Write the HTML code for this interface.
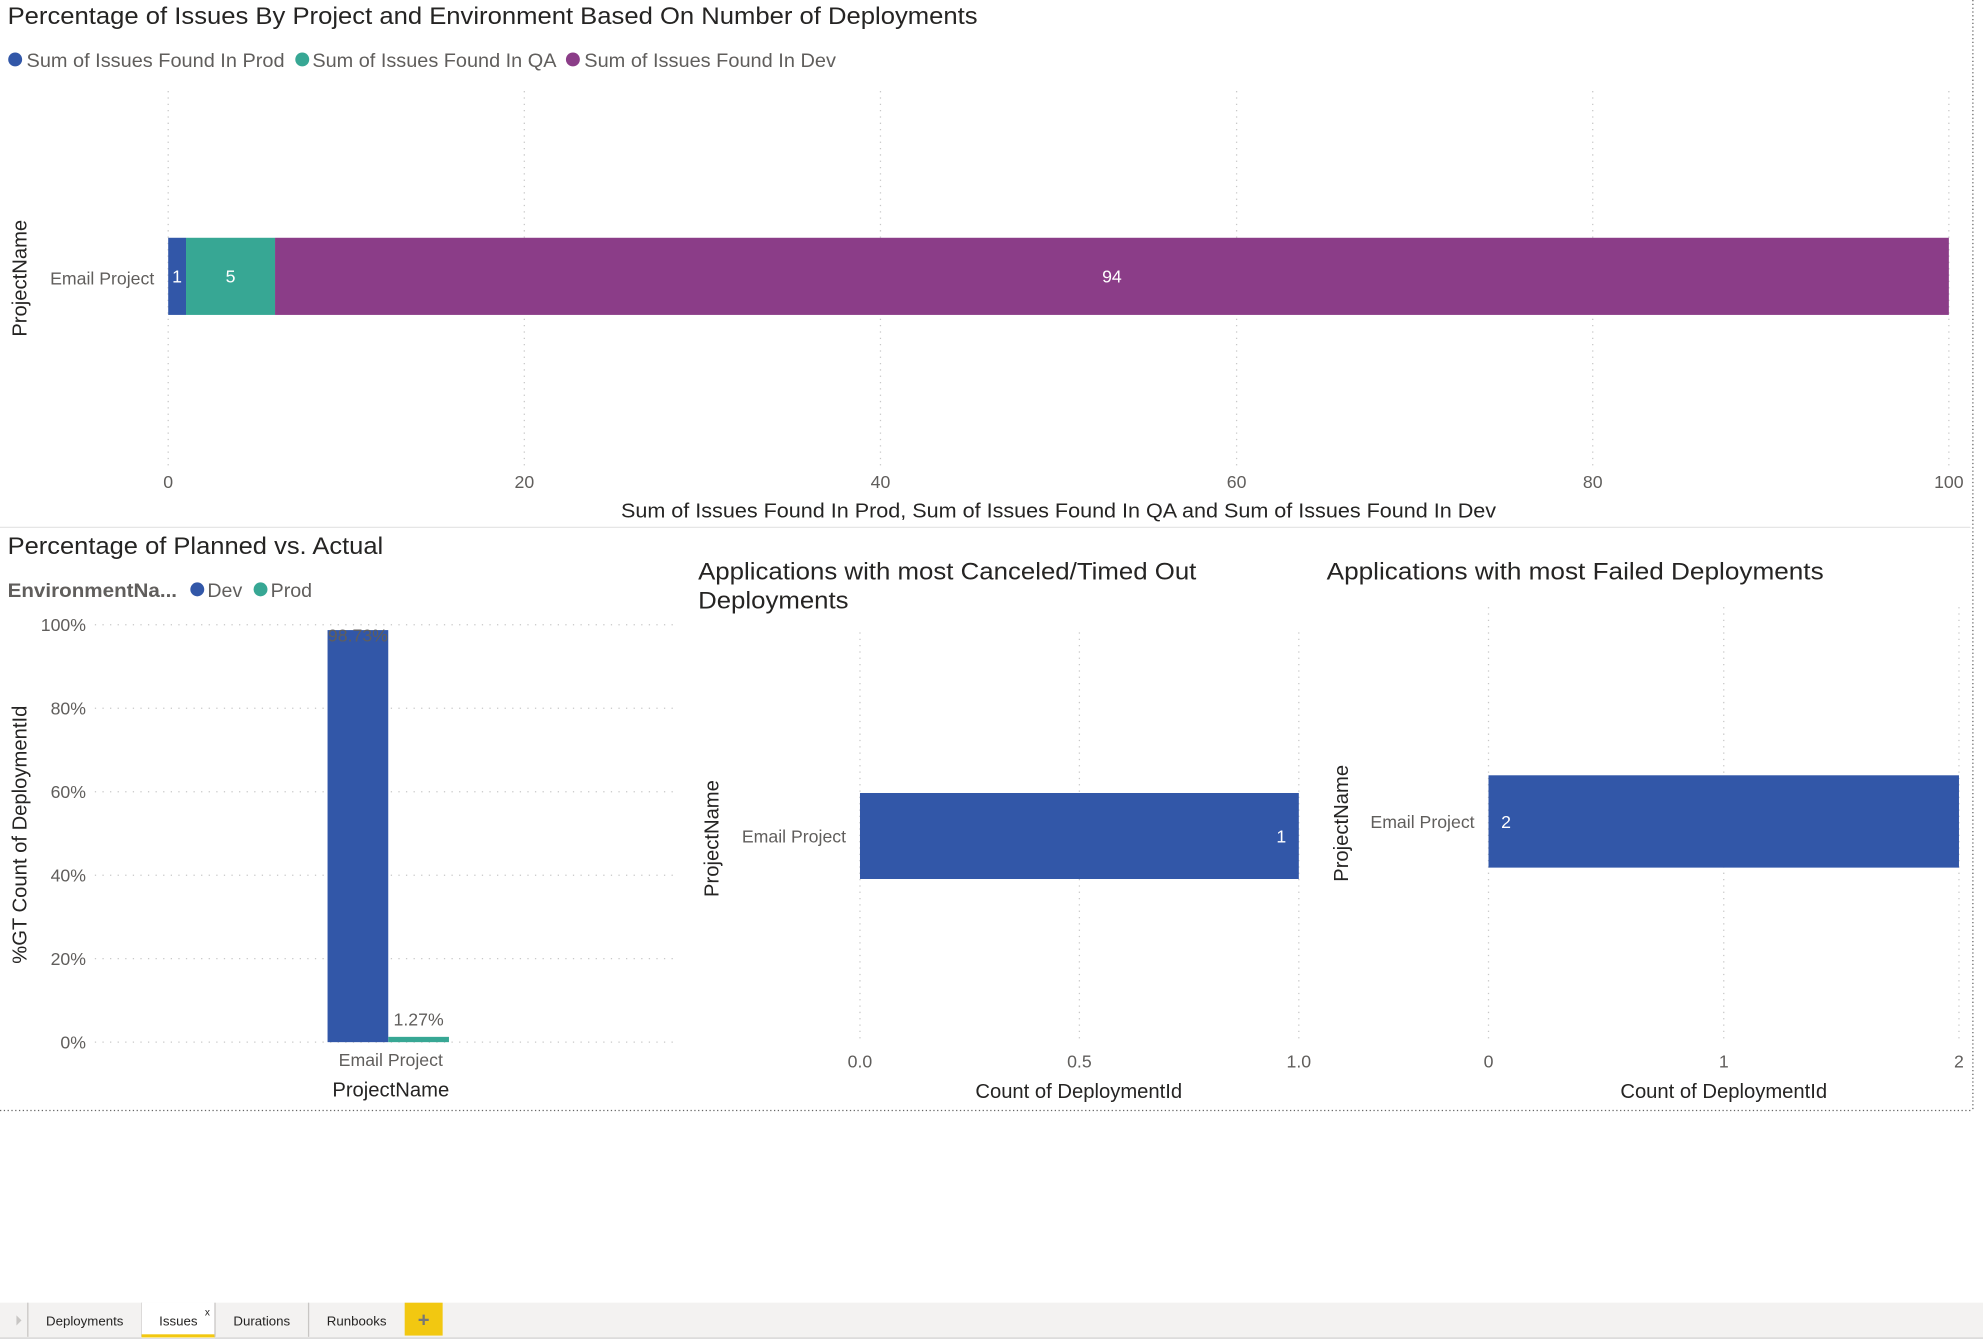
<!DOCTYPE html>
<html><head><meta charset="utf-8">
<style>
html,body{margin:0;padding:0;background:#fff;overflow:hidden}
svg{display:block}
text{font-family:"Liberation Sans Narrow","Liberation Sans",sans-serif}
</style></head>
<body>
<svg id="root" width="1983" height="1340" viewBox="0 0 1568 1059.5" preserveAspectRatio="none">
<g id="static">
  <line x1="1560" y1="0" x2="1560" y2="878" stroke="#666" stroke-dasharray="1,2"/>
  <line x1="0" y1="878" x2="1560" y2="878" stroke="#666" stroke-dasharray="1,2"/>
  <line x1="0" y1="417" x2="1558" y2="417" stroke="#e6e6e6"/>

  <text x="6" y="19" font-size="19" fill="#252423" textLength="767" lengthAdjust="spacingAndGlyphs">Percentage of Issues By Project and Environment Based On Number of Deployments</text>
  <g>
    <circle cx="12" cy="47" r="5.5" fill="#3257a8"/>
    <text x="21" y="53" font-size="15.5" fill="#605e5c" textLength="204" lengthAdjust="spacingAndGlyphs">Sum of Issues Found In Prod</text>
    <circle cx="239" cy="47" r="5.5" fill="#37a794"/>
    <text x="247" y="53" font-size="15.5" fill="#605e5c" textLength="193" lengthAdjust="spacingAndGlyphs">Sum of Issues Found In QA</text>
    <circle cx="453" cy="47" r="5.5" fill="#8b3d88"/>
    <text x="462" y="53" font-size="15.5" fill="#605e5c" textLength="199" lengthAdjust="spacingAndGlyphs">Sum of Issues Found In Dev</text>
  </g>
  <text transform="translate(21,220) rotate(-90)" text-anchor="middle" font-size="16" fill="#252423" font-family="Liberation Sans">ProjectName</text>
  <text x="122" y="225" text-anchor="end" font-size="14" fill="#605e5c">Email Project</text>
  <text x="837" y="409" text-anchor="middle" font-size="16" fill="#252423" textLength="692" lengthAdjust="spacingAndGlyphs">Sum of Issues Found In Prod, Sum of Issues Found In QA and Sum of Issues Found In Dev</text>

  <text x="6" y="438" font-size="19" fill="#252423" textLength="297" lengthAdjust="spacingAndGlyphs">Percentage of Planned vs. Actual</text>
  <text x="6" y="472" font-size="15.5" font-weight="bold" fill="#605e5c" textLength="134" lengthAdjust="spacingAndGlyphs">EnvironmentNa...</text>
  <circle cx="156" cy="466" r="5.5" fill="#3257a8"/>
  <text x="164" y="472" font-size="15.5" fill="#605e5c">Dev</text>
  <circle cx="206" cy="466" r="5.5" fill="#37a794"/>
  <text x="214" y="472" font-size="15.5" fill="#605e5c">Prod</text>
  <text transform="translate(21,660) rotate(-90)" text-anchor="middle" font-size="16" fill="#252423" font-family="Liberation Sans">%GT Count of DeploymentId</text>
  <text x="309" y="867" text-anchor="middle" font-size="16" fill="#252423">ProjectName</text>

  <text x="552" y="458" font-size="19" fill="#252423" textLength="394" lengthAdjust="spacingAndGlyphs">Applications with most Canceled/Timed Out</text>
  <text x="552" y="481" font-size="19" fill="#252423" textLength="119" lengthAdjust="spacingAndGlyphs">Deployments</text>
  <text transform="translate(568,663) rotate(-90)" text-anchor="middle" font-size="16" fill="#252423" font-family="Liberation Sans">ProjectName</text>
  <text x="853" y="868" text-anchor="middle" font-size="16" fill="#252423">Count of DeploymentId</text>

  <text x="1049" y="458" font-size="19" fill="#252423" textLength="393" lengthAdjust="spacingAndGlyphs">Applications with most Failed Deployments</text>
  <text transform="translate(1066,651) rotate(-90)" text-anchor="middle" font-size="16" fill="#252423" font-family="Liberation Sans">ProjectName</text>
  <text x="1363" y="868" text-anchor="middle" font-size="16" fill="#252423">Count of DeploymentId</text>

  <g>
    <rect x="0" y="1030" width="1568" height="28" fill="#f3f2f1"/>
    <line x1="0" y1="1058" x2="1568" y2="1058" stroke="#d0d0d0"/>
    <polygon points="13,1040 17,1044 13,1048" fill="#c8c6c4"/>
    <line x1="22" y1="1030" x2="22" y2="1057" stroke="#c8c6c4"/>
    <text x="67" y="1048" text-anchor="middle" font-size="10.5" fill="#252423">Deployments</text>
    <line x1="112" y1="1030" x2="112" y2="1057" stroke="#c8c6c4"/>
    <rect x="112" y="1030" width="58" height="28" fill="#fff"/>
    <rect x="112" y="1055" width="58" height="2.5" fill="#f2c811"/>
    <text x="141" y="1048" text-anchor="middle" font-size="10.5" fill="#252423">Issues</text>
    <text x="164" y="1040" text-anchor="middle" font-size="8" fill="#252423">x</text>
    <line x1="170" y1="1030" x2="170" y2="1057" stroke="#c8c6c4"/>
    <text x="207" y="1048" text-anchor="middle" font-size="10.5" fill="#252423">Durations</text>
    <line x1="244" y1="1030" x2="244" y2="1057" stroke="#c8c6c4"/>
    <text x="282" y="1048" text-anchor="middle" font-size="10.5" fill="#252423">Runbooks</text>
    <rect x="320" y="1030" width="30" height="26" fill="#f2c811"/>
    <text x="335" y="1049" text-anchor="middle" font-size="16" font-weight="bold" fill="#777">+</text>
  </g>
</g>
<g id="charts"></g>
</svg>
<script>
// Top stacked bar data
const topCategories = ["Email Project"];
const topProd = [1];
const topQA = [5];
const topDev = [94];
const topTicks = [0, 20, 40, 60, 80, 100];
// Bottom-left clustered column
const blCategories = ["Email Project"];
const blDev = [98.73];
const blProd = [1.27];
const blTicks = [0, 20, 40, 60, 80, 100];
// Middle bar
const midCategories = ["Email Project"];
const midValues = [1];
const midTicks = [0.0, 0.5, 1.0];
// Right bar
const rightCategories = ["Email Project"];
const rightValues = [2];
const rightTicks = [0, 1, 2];

const NS = "http://www.w3.org/2000/svg";
const g = document.getElementById("charts");
function mk(tag, attrs, parent) {
  const e = document.createElementNS(NS, tag);
  for (const k in attrs) e.setAttribute(k, attrs[k]);
  (parent || g).appendChild(e);
  return e;
}
function txt(x, y, s, size, fill, anchor) {
  const t = mk("text", {x: x, y: y, "font-size": size, fill: fill, "text-anchor": anchor || "middle"});
  t.textContent = s;
  return t;
}

// ---- Top chart ----
const tx = v => 133 + (v / 100) * (1541 - 133);
topTicks.forEach(v => {
  const l = mk("line", {x1: tx(v), x2: tx(v), y1: 72, y2: 372, stroke: "#c8c8c8", "stroke-dasharray": "1,4"});
  
  
  const t = txt(tx(v), 386, String(v), 14, "#605e5c");
  
  
});
topCategories.forEach((c, i) => {
  const y0 = 188, h = 61;
  const segs = [[topProd[i], "#3257a8", "prod"], [topQA[i], "#37a794", "qa"], [topDev[i], "#8b3d88", "dev"]];
  let acc = 0;
  segs.forEach(s => {
    const r = mk("rect", {x: tx(acc), y: y0, width: tx(acc + s[0]) - tx(acc), height: h, fill: s[1]});
    
    
    const t = txt((tx(acc) + tx(acc + s[0])) / 2, y0 + h / 2 + 5, String(s[0]), 14, "#fff");
    
    
    acc += s[0];
  });
});

// ---- Bottom-left chart ----
const by = v => 824 - (v / 100) * (824 - 494);
blTicks.forEach(v => {
  const l = mk("line", {x1: 75, x2: 535, y1: by(v), y2: by(v), stroke: "#c8c8c8", "stroke-dasharray": "1,5"});
  
  
  const t = txt(68, by(v) + 5, v + "%", 14, "#605e5c", "end");
  
  
});
blCategories.forEach((c, i) => {
  const cx = 307, w = 48;
  const r1 = mk("rect", {x: cx - w, y: by(blDev[i]), width: w, height: 824 - by(blDev[i]), fill: "#3257a8"});
  
  
  const r2 = mk("rect", {x: cx, y: by(blProd[i]), width: w, height: 824 - by(blProd[i]), fill: "#37a794"});
  
  
  const t1 = txt(cx - w / 2, by(blDev[i]) + 9, blDev[i].toFixed(2) + "%", 14, "#605e5c");
  
  
  const t2 = txt(cx + w / 2, by(blProd[i]) - 9, blProd[i].toFixed(2) + "%", 14, "#605e5c");
  
  
  const t3 = txt(cx + 2, 843, c, 14, "#605e5c");
  
  
});

// ---- Horizontal bar helper ----
function hbar(prefix, cats, vals, ticks, x0, x1, gy0, y0, h, valueInside) {
  const max = ticks[ticks.length - 1];
  const sx = v => x0 + (v / max) * (x1 - x0);
  ticks.forEach(v => {
    const l = mk("line", {x1: sx(v), x2: sx(v), y1: gy0, y2: 825, stroke: "#c8c8c8", "stroke-dasharray": "1,4"});
    
    
    const lab = ticks.some(t => t % 1 !== 0) ? v.toFixed(1) : String(v);
    const t = txt(sx(v), 844, lab, 14, "#605e5c");
    
    
  });
  cats.forEach((c, i) => {
    const r = mk("rect", {x: x0, y: y0, width: sx(vals[i]) - x0, height: h, fill: "#3257a8"});
    
    
    const t = valueInside === "end"
      ? txt(sx(vals[i]) - 10, y0 + h / 2 + 5, String(vals[i]), 14, "#fff", "end")
      : txt(x0 + 10, y0 + h / 2 + 5, String(vals[i]), 14, "#fff", "start");
    
    
    const cl = txt(x0 - 11, y0 + h / 2 + 5, c, 14, "#605e5c", "end");
    
    
  });
}
hbar("mid", midCategories, midValues, midTicks, 680, 1027, 500, 627, 68, "end");
hbar("right", rightCategories, rightValues, rightTicks, 1177, 1549, 480, 613, 73, "start");
</script>
</body></html>
